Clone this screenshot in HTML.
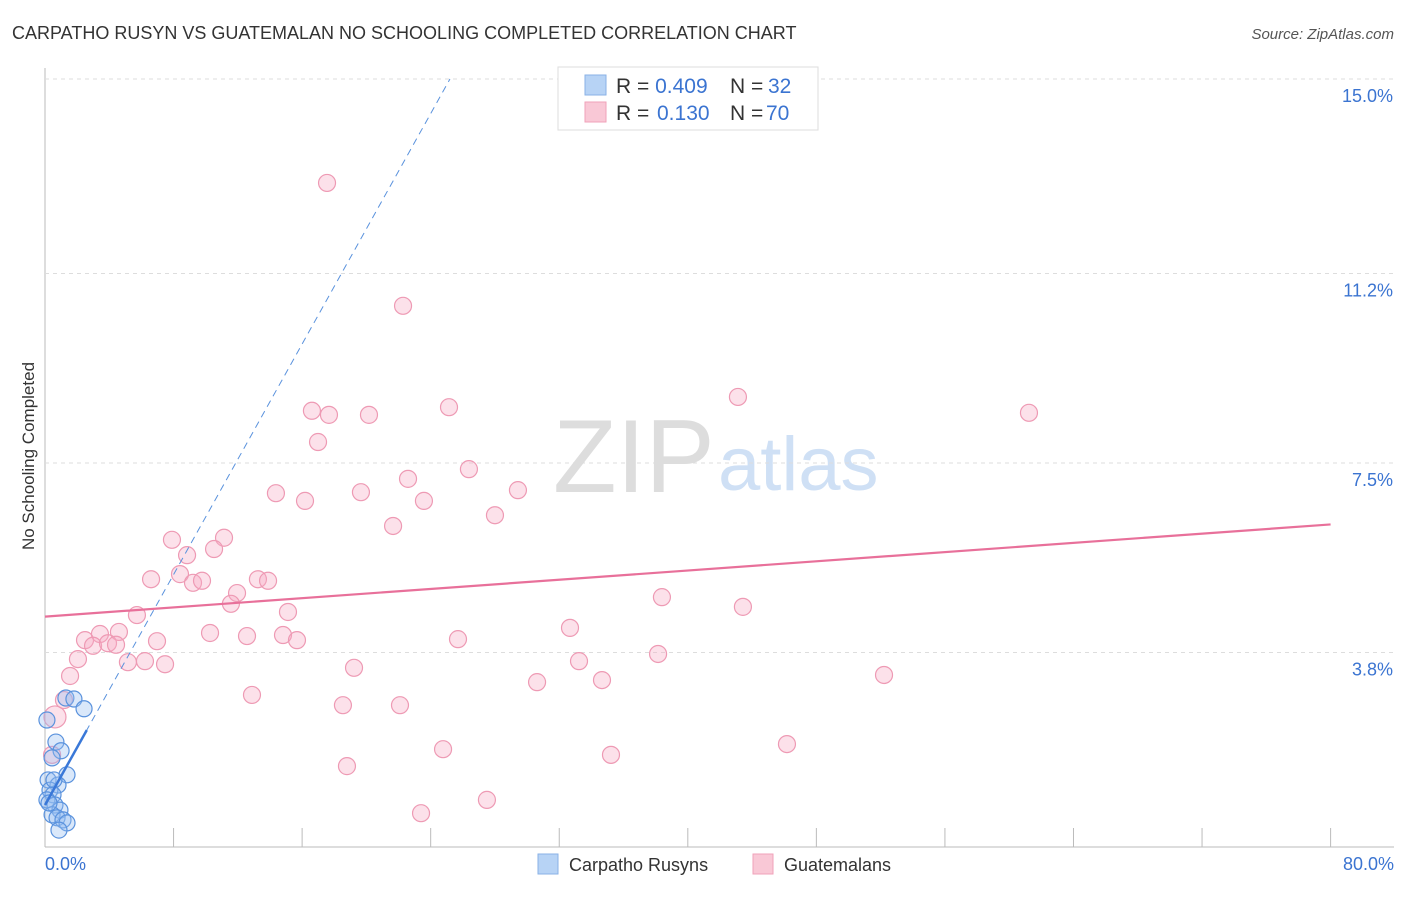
<!DOCTYPE html>
<html><head><meta charset="utf-8"><style>
body{margin:0;background:#fff;font-family:"Liberation Sans",sans-serif;}
svg text{font-family:"Liberation Sans",sans-serif;}
</style></head><body>
<svg id="chart" width="1406" height="892" xmlns="http://www.w3.org/2000/svg">
<text x="12" y="39" font-size="18" fill="#333">CARPATHO RUSYN VS GUATEMALAN NO SCHOOLING COMPLETED CORRELATION CHART</text>
<text x="1394" y="39" font-size="15" fill="#555" font-style="italic" text-anchor="end">Source: ZipAtlas.com</text>
<text transform="translate(34,456) rotate(-90)" font-size="17" fill="#333" text-anchor="middle">No Schooling Completed</text>
<text x="553" y="492" font-size="104" fill="#ddd" font-family="Liberation Serif">ZIP</text>
<text x="718" y="490" font-size="76" fill="#cfe0f5">atlas</text>
<g id="grid"></g><g id="marks"></g>
<g>
<rect x="558" y="67" width="260" height="63" fill="#fff" stroke="#ddd"/>
<rect x="585" y="75" width="21" height="20" fill="#b7d3f5" stroke="#8ab1e6"/>
<rect x="585" y="102" width="21" height="20" fill="#f9c8d6" stroke="#f0a2b9"/>
<text x="616" y="93" font-size="21" fill="#333">R = <tspan fill="#3b74d1">0.409</tspan><tspan x="730">N = </tspan><tspan x="768" fill="#3b74d1">32</tspan></text>
<text x="616" y="120" font-size="21" fill="#333">R = <tspan x="657" fill="#3b74d1">0.130</tspan><tspan x="730">N = </tspan><tspan x="766" fill="#3b74d1">70</tspan></text>
</g>
<g>
<rect x="538" y="854" width="20" height="20" fill="#b7d3f5" stroke="#8ab1e6"/>
<text x="569" y="871" font-size="18" fill="#333">Carpatho Rusyns</text>
<rect x="753" y="854" width="20" height="20" fill="#f9c8d6" stroke="#f0a2b9"/>
<text x="784" y="871" font-size="18" fill="#333">Guatemalans</text>
</g>
</svg>
<script>
const yTicks=[15.0,11.2,7.5,3.8];
const yTickLabels=["15.0%","11.2%","7.5%","3.8%"];
const xTickLabels=["0.0%","80.0%"];
const pinkX=[17.55,22.28,43.12,61.23,25.14,16.61,17.67,20.16,16.99,26.38,22.59,14.37,19.66,29.43,16.18,23.58,28.0,21.66,7.9,11.14,8.84,10.52,6.6,8.4,9.21,9.77,13.25,13.88,11.95,11.57,5.72,15.12,38.39,43.43,2.49,3.42,4.6,2.99,3.92,4.42,6.97,10.27,12.57,14.81,15.68,25.7,32.67,2.05,5.16,6.22,7.47,19.23,33.23,38.15,1.56,52.21,30.62,34.66,12.88,18.54,22.09,1.18,0.62,24.77,46.17,35.22,18.79,27.5,23.4,0.44];
const pinkY=[12.97,10.57,8.79,8.48,8.59,8.52,8.44,8.44,7.91,7.38,7.19,6.91,6.93,6.97,6.76,6.76,6.48,6.27,6.0,6.04,5.7,5.82,5.23,5.33,5.16,5.2,5.23,5.2,4.96,4.75,4.53,4.59,4.88,4.69,4.04,4.16,4.2,3.93,3.98,3.95,4.02,4.18,4.12,4.14,4.04,4.06,4.28,3.67,3.61,3.63,3.57,3.5,3.63,3.77,3.34,3.36,3.22,3.26,2.97,2.77,2.77,2.87,2.54,1.91,2.01,1.8,1.58,0.92,0.66,1.8];
const blueX=[0.12,1.3,1.8,2.43,0.68,1.0,0.44,1.37,0.19,0.81,0.31,0.5,0.12,0.62,0.93,0.44,0.75,1.12,1.37,0.87,0.25,0.56];
const blueY=[2.48,2.91,2.89,2.7,2.05,1.88,1.74,1.41,1.31,1.21,1.11,1.02,0.92,0.82,0.72,0.63,0.57,0.53,0.47,0.33,0.86,1.31];
const pinkTrend=[4.5,6.3];
const blueTrend=[0.82,15.0,2.6,25.2];
const X=v=>45+v*16.07, Y=v=>847-v*51.2;
const NS="http://www.w3.org/2000/svg";
const grid=document.getElementById('grid'), marks=document.getElementById('marks');
function mk(tag,attrs,parent){const e=document.createElementNS(NS,tag);for(const k in attrs)e.setAttribute(k,attrs[k]);parent.appendChild(e);return e;}
let l=mk('line',{x1:45,y1:68,x2:45,y2:847,stroke:'#bbb'},grid);


l=mk('line',{x1:45,y1:847,x2:1394,y2:847,stroke:'#bbb'},grid);


yTicks.forEach((t,i)=>{
 const g=mk('line',{x1:45,y1:Y(t),x2:1394,y2:Y(t),stroke:'#ddd','stroke-dasharray':'4,4'},grid);
 
 
 const tx=mk('text',{x:1393,y:Y(t)+23,'font-size':18,fill:'#3b74d1','text-anchor':'end'},grid);
 tx.textContent=yTickLabels[i];
 
 
});
for(let i=1;i<=10;i++){
 const t=mk('line',{x1:X(i*8),y1:828,x2:X(i*8),y2:847,stroke:'#bbb'},grid);
 
 
}
[[0,'start',45],[80,'end',1394]].forEach((d,i)=>{
 const tx=mk('text',{x:d[2],y:870,'font-size':18,fill:'#3b74d1','text-anchor':d[1]},grid);
 tx.textContent=xTickLabels[i];
 
 
});
pinkX.forEach((x,i)=>{
 const c=mk('circle',{cx:X(x),cy:Y(pinkY[i]),r:i==62?11:8.5,fill:'rgba(246,170,195,0.35)',stroke:'#ee9ab4','stroke-width':1.2},marks);
 
 
});
blueX.forEach((x,i)=>{
 const c=mk('circle',{cx:X(x),cy:Y(blueY[i]),r:8,fill:'rgba(150,190,240,0.35)',stroke:'#5a92dd','stroke-width':1.2},marks);
 
 
});
l=mk('line',{x1:X(0),y1:Y(pinkTrend[0]),x2:X(80),y2:Y(pinkTrend[1]),stroke:'#e8709a','stroke-width':2.2},marks);


l=mk('line',{x1:X(0),y1:Y(blueTrend[0]),x2:X(blueTrend[3]),y2:Y(blueTrend[1]),stroke:'#5a92dd','stroke-width':1,'stroke-dasharray':'7,5'},marks);


l=mk('line',{x1:X(0),y1:Y(blueTrend[0]),x2:X(blueTrend[2]),y2:Y(blueTrend[0]+(blueTrend[1]-blueTrend[0])*blueTrend[2]/blueTrend[3]),stroke:'#3a78d8','stroke-width':2.5},marks);


</script>
</body></html>
